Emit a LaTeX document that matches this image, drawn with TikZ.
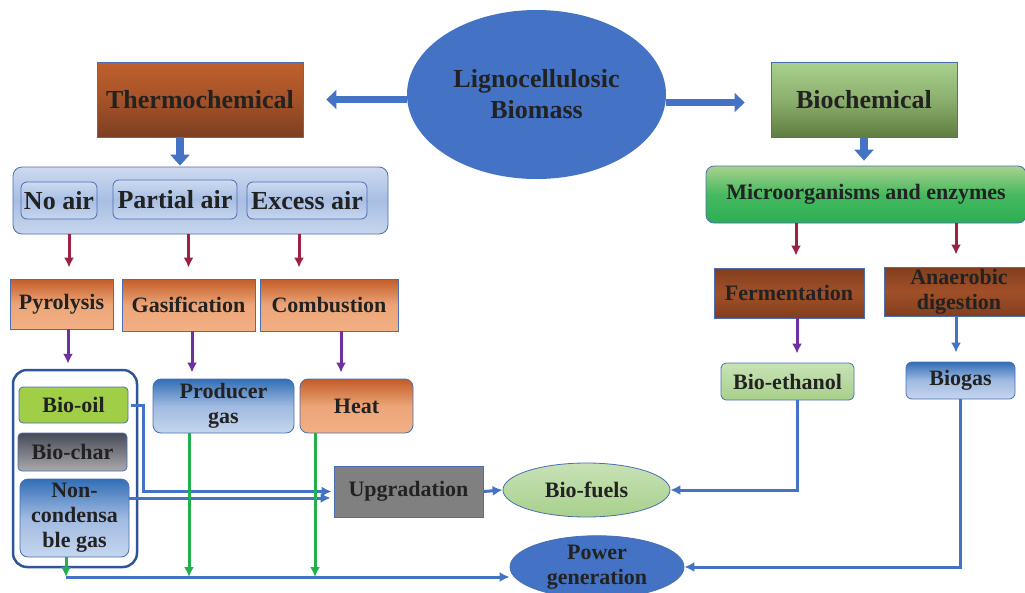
\documentclass[tikz,border=0pt]{standalone}
\usepackage{fontspec}
\setmainfont{Liberation Serif}
\usetikzlibrary{arrows.meta,shapes.geometric}

\definecolor{boxline}{HTML}{4A6FB0}
\definecolor{txtdark}{HTML}{222222}
\definecolor{mainblue}{HTML}{4472C4}
\definecolor{darkred}{HTML}{9B2242}
\definecolor{violet2}{HTML}{7030A0}
\definecolor{green2}{HTML}{22B04C}

\begin{document}
\begin{tikzpicture}[x=1pt,y=-1pt,>=latex]

% --- Global TikZ Styles ---
\tikzset{
    box/.style={draw=boxline, line width=0.8pt, inner sep=0pt, align=center,
        text=txtdark, font=\bfseries\fontsize{22}{25}\selectfont},
    bigbox/.style={box, font=\bfseries\fontsize{26}{31}\selectfont},
    thermofill/.style={top color={rgb,255:red,192;green,96;blue,44}, bottom color={rgb,255:red,124;green,63;blue,34}, middle color={rgb,255:red,165;green,82;blue,40}},
    biofill/.style={top color={rgb,255:red,169;green,209;blue,142}, bottom color={rgb,255:red,95;green,125;blue,64}, middle color={rgb,255:red,140;green,175;blue,110}},
    airfill/.style={top color={rgb,255:red,205;green,218;blue,240}, bottom color={rgb,255:red,200;green,214;blue,238}, middle color={rgb,255:red,168;green,190;blue,227}},
    orangefill/.style={top color={rgb,255:red,195;green,92;blue,40}, bottom color={rgb,255:red,242;green,176;blue,132}, middle color={rgb,255:red,236;green,165;blue,120}},
    brownfill/.style={top color={rgb,255:red,130;green,62;blue,30}, bottom color={rgb,255:red,130;green,62;blue,30}, middle color={rgb,255:red,160;green,80;blue,40}},
    bluefill/.style={top color={rgb,255:red,50;green,110;blue,182}, bottom color={rgb,255:red,198;green,214;blue,238}, middle color={rgb,255:red,160;green,186;blue,225}},
    greenfill/.style={top color={rgb,255:red,169;green,209;blue,142}, bottom color={rgb,255:red,44;green,174;blue,84}, middle color={rgb,255:red,70;green,185;blue,95}},
    lightgreen/.style={top color={rgb,255:red,200;green,225;blue,182}, bottom color={rgb,255:red,168;green,208;blue,140}},
    blockarrow/.style={draw=mainblue, line width=7pt, -{Triangle[length=10pt,width=19pt]}},
    blockdown/.style={draw=mainblue, line width=8pt, -{Triangle[length=11pt,width=19pt]}},
    redarrow/.style={draw=darkred, line width=3pt, -{Latex[length=10pt,width=10pt]}},
    purplearrow/.style={draw=violet2, line width=3pt, -{Latex[length=10pt,width=10pt]}},
    bluearrow/.style={draw=mainblue, line width=3pt, -{Latex[length=10pt,width=10pt]}},
    greenarrow/.style={draw=green2, line width=3pt, -{Latex[length=10pt,width=10pt]}}
}

\useasboundingbox (0,0) rectangle (1025,592);
\clip (0,0) rectangle (1025,592);

% --- Top level ---
\node[ellipse, fill=mainblue, inner sep=0pt, minimum width=259pt, minimum height=169pt,
    align=center, text=txtdark, font=\bfseries\fontsize{26}{31}\selectfont] (lig) at (536.5,94.5) {Lignocellulosic\\Biomass};
\node[bigbox, thermofill, minimum width=206pt, minimum height=75pt] (thermo) at (200,99.5) {Thermochemical};
\node[bigbox, biofill, minimum width=186pt, minimum height=75pt] (bio) at (864,99.5) {Biochemical};

\draw[blockarrow, shorten >=23pt] (lig.west |- thermo.east) -- (thermo.east);
\draw[blockarrow, shorten >=26pt] ([yshift=-8pt]lig.east) -- ([yshift=-8pt]lig.east -| bio.west);

% --- Thermochemical branch ---
\node[bigbox, airfill, rounded corners=9pt, minimum width=375pt, minimum height=67pt] (air) at (200.5,200.5) {};
\node[bigbox, airfill, rounded corners=6pt, minimum width=76pt, minimum height=37pt] (noair) at (59,200.5) {No air};
\node[bigbox, airfill, rounded corners=6pt, minimum width=124pt, minimum height=39pt] (partair) at (175,199.5) {Partial air};
\node[bigbox, airfill, rounded corners=6pt, minimum width=120pt, minimum height=37pt] (excair) at (307,200.5) {Excess air};

\draw[blockdown, shorten >=1pt] ([xshift=-20pt]thermo.south) -- ([xshift=-20pt]thermo.south |- air.north);

\node[box, orangefill, minimum width=103pt, minimum height=50pt] (pyro) at (61.5,304) {Pyrolysis};
\node[box, orangefill, minimum width=133pt, minimum height=52pt] (gasif) at (188.5,305) {Gasification};
\node[box, orangefill, minimum width=138pt, minimum height=52pt] (comb) at (329,305) {Combustion};

\draw[redarrow, shorten >=11pt] ([xshift=7.5pt]pyro.north |- air.south) -- ([xshift=7.5pt]pyro.north);
\draw[redarrow, shorten >=11pt] (gasif.north |- air.south) -- (gasif.north);
\draw[redarrow, shorten >=11pt] ([xshift=-30pt]comb.north |- air.south) -- ([xshift=-30pt]comb.north);

% Pyrolysis products
\node[draw={rgb,255:red,47;green,85;blue,151}, line width=2.5pt, rounded corners=14pt, fill=white,
    minimum width=124pt, minimum height=197pt] (pyrobox) at (75,468.5) {};
\node[box, fill={rgb,255:red,160;green,206;blue,70}, rounded corners=4pt, minimum width=109pt, minimum height=36pt] (biooil) at (73.5,405) {Bio-oil};
\node[box, top color={rgb,255:red,72;green,74;blue,88}, bottom color={rgb,255:red,170;green,170;blue,170}, rounded corners=4pt,
    minimum width=109pt, minimum height=38pt] (biochar) at (72.5,452) {Bio-char};
\node[box, bluefill, rounded corners=8pt, minimum width=109pt, minimum height=78pt] (noncond) at (74.5,518) {Non-\\condensa\\ble gas};

\node[box, bluefill, rounded corners=8pt, minimum width=141pt, minimum height=54pt] (prodgas) at (223.5,406) {Producer\\gas};
\node[box, orangefill, rounded corners=8pt, minimum width=113pt, minimum height=54pt] (heat) at (356.5,406) {Heat};

\draw[purplearrow, shorten >=5pt] ([xshift=6.5pt]pyro.south) -- ([xshift=6.5pt]pyro.south |- pyrobox.north);
\draw[purplearrow, shorten >=6pt] ([xshift=3.5pt]gasif.south) -- ([xshift=3.5pt]gasif.south |- prodgas.north);
\draw[purplearrow, shorten >=6pt] ([xshift=12pt]comb.south) -- ([xshift=12pt]comb.south |- heat.north);

% --- Biochemical branch ---
\node[bigbox, greenfill, rounded corners=8pt, minimum width=320pt, minimum height=57pt,
    font=\bfseries\fontsize{22}{25}\selectfont] (micro) at (866,194.5) {Microorganisms and enzymes};
\draw[blockdown, shorten >=5pt] (bio.south) -- (bio.south |- micro.north);

\node[box, brownfill, minimum width=150pt, minimum height=50pt] (ferm) at (789,293) {Fermentation};
\node[box, brownfill, minimum width=150pt, minimum height=49pt] (anaer) at (959,291.5) {Anaerobic\\digestion};

\draw[redarrow, shorten >=12pt] ([xshift=7pt]ferm.north |- micro.south) -- ([xshift=7pt]ferm.north);
\draw[redarrow, shorten >=12pt] ([xshift=-3pt]anaer.north |- micro.south) -- ([xshift=-3pt]anaer.north);

\node[box, lightgreen, rounded corners=5pt, minimum width=133pt, minimum height=37pt] (bioeth) at (787.5,381.5) {Bio-ethanol};
\node[box, bluefill, rounded corners=6pt, minimum width=109pt, minimum height=37pt] (biogas) at (960.5,380.5) {Biogas};

\draw[purplearrow, shorten >=9pt] ([xshift=8pt]ferm.south) -- ([xshift=8pt]ferm.south |- bioeth.north);
\draw[bluearrow, shorten >=9pt] ([xshift=-3pt]anaer.south) -- ([xshift=-3pt]anaer.south |- biogas.north);

% --- Outputs ---
\node[box, fill={rgb,255:red,128;green,128;blue,128}, minimum width=149pt, minimum height=51pt] (upgrad) at (408.5,491.5) {Upgradation};
\node[box, ellipse, lightgreen, minimum width=167pt, minimum height=54pt] (biofuels) at (586.5,490) {Bio-fuels};
\node[box, ellipse, fill=mainblue, minimum width=174pt, minimum height=60pt] (power) at (597,567) {Power\\generation};

% Blue connectors
\draw[bluearrow, shorten >=2pt] ([xshift=3pt]biooil.east) -- ++(12,0) |- (upgrad.west);
\draw[bluearrow, shorten >=3pt] ([yshift=20pt]noncond.east) -- ([yshift=20pt]noncond.east -| upgrad.west);
\draw[bluearrow] (upgrad.east) -- (biofuels.west);
\draw[bluearrow] ([xshift=10pt]bioeth.south) |- (biofuels.east);
\draw[bluearrow] (biogas.south) |- (power.east);

\coordinate (busstart) at ([xshift=-8.5pt]noncond.south |- 0,577);
\draw[bluearrow] (busstart) -- (busstart -| power.west);

% Green connectors to power line
\draw[greenarrow] ([xshift=-8.5pt]noncond.south) -- (busstart);
\draw[greenarrow] ([xshift=-34.5pt]prodgas.south) -- ([xshift=-34.5pt]prodgas.south |- busstart);
\draw[greenarrow] ([xshift=-41.5pt]heat.south) -- ([xshift=-41.5pt]heat.south |- busstart);

\end{tikzpicture}
\end{document}
